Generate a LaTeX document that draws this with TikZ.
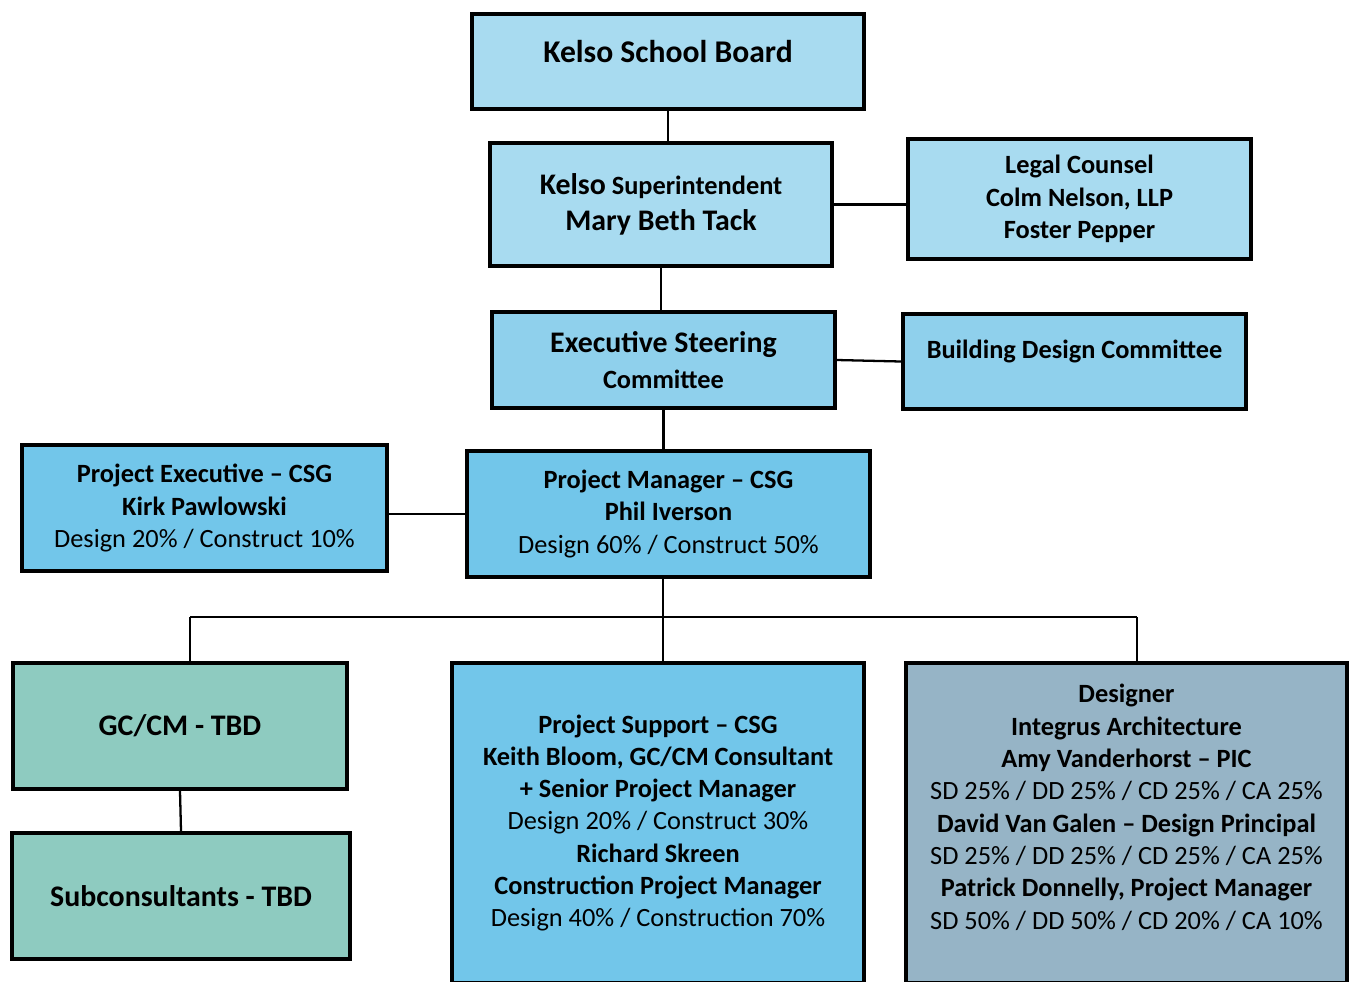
\documentclass[tikz,border=0pt]{standalone}
\usepackage{fontspec}
\setmainfont{Carlito}
\usepackage{xcolor}
\usetikzlibrary{positioning}

\definecolor{boardblue}{HTML}{A8DBF0}
\definecolor{steerblue}{HTML}{8FD0EC}
\definecolor{csgblue}{HTML}{72C6EA}
\definecolor{gcgreen}{HTML}{8ECBC0}
\definecolor{designgray}{HTML}{96B4C6}

\newcommand{\bigtxt}{\fontsize{17}{20.4}\selectfont\bfseries}

\begin{document}
\begin{tikzpicture}[
  x=0.02cm, y=-0.02cm,
  box/.style={rectangle, draw, line width=2.2pt, align=center, inner sep=2pt,
    font=\fontsize{15}{18.4}\selectfont},
  wide/.style={font=\fontsize{15}{20.4}\selectfont},
  link/.style={line width=1.3pt}
]
\useasboundingbox (0,0) rectangle (1351,981);

% Board and superintendent
\node[box, fill=boardblue, minimum width=7.84cm, minimum height=1.90cm, text depth=0.4cm] (board) at (668,61.5)
  {\fontsize{18}{21}\selectfont\bfseries Kelso School Board};
\node[box, wide, fill=boardblue, minimum width=6.84cm, minimum height=2.46cm] (supt) at (661,204.5)
  {\textbf{{\fontsize{17}{20.4}\selectfont Kelso} Superintendent}\\
   \textbf{\fontsize{17}{20.4}\selectfont Mary Beth Tack}};
\node[box, fill=boardblue, minimum width=6.86cm, minimum height=2.40cm] (legal) at (1079.5,199)
  {\textbf{Legal Counsel}\\ \textbf{Colm Nelson, LLP}\\ \textbf{Foster Pepper}};

% Committees
\node[box, wide, fill=steerblue, minimum width=6.86cm, minimum height=1.92cm] (esc) at (663.5,360)
  {\textbf{\fontsize{17}{20.4}\selectfont Executive Steering}\\ \textbf{Committee}};
\node[box, fill=steerblue, minimum width=6.86cm, minimum height=1.90cm, text depth=0.5cm] (bdc) at (1074.5,361.5)
  {\textbf{Building Design Committee}};

% CSG
\node[box, fill=csgblue, minimum width=7.30cm, minimum height=2.52cm] (pe) at (204.5,508)
  {\textbf{Project Executive -- CSG}\\ \textbf{Kirk Pawlowski}\\ Design 20\% / Construct 10\%};
\node[box, fill=csgblue, minimum width=8.06cm, minimum height=2.52cm] (pm) at (668.5,514)
  {\textbf{Project Manager -- CSG}\\ \textbf{Phil Iverson}\\ Design 60\% / Construct 50\%};

% Bottom row
\node[box, fill=gcgreen, minimum width=6.68cm, minimum height=2.52cm] (gccm) at (180,726)
  {\bigtxt GC/CM - TBD};
\node[box, fill=gcgreen, minimum width=6.76cm, minimum height=2.52cm] (sub) at (181,896)
  {\bigtxt Subconsultants - TBD};
\node[box, fill=csgblue, minimum width=8.24cm, minimum height=6.40cm] (ps) at (658,823)
  {\textbf{Project Support -- CSG}\\ \textbf{Keith Bloom, GC/CM Consultant}\\
   \textbf{+ Senior Project Manager}\\ Design 20\% / Construct 30\%\\
   \textbf{Richard Skreen}\\ \textbf{Construction Project Manager}\\
   Design 40\% / Construction 70\%};
\node[box, fill=designgray, minimum width=8.82cm, minimum height=6.40cm] (des) at (1126.5,823)
  {\textbf{Designer}\\ \textbf{Integrus Architecture}\\ \textbf{Amy Vanderhorst -- PIC}\\
   SD 25\% / DD 25\% / CD 25\% / CA 25\%\\
   \textbf{David Van Galen -- Design Principal}\\
   SD 25\% / DD 25\% / CD 25\% / CA 25\%\\
   \textbf{Patrick Donnelly, Project Manager}\\
   SD 50\% / DD 50\% / CD 20\% / CA 10\%\\ \mbox{}};

% Bus under project manager
\coordinate (busL) at (190,617);
\coordinate (busR) at (1137,617);
\coordinate (drop) at (663,617);

% Connectors
\draw[link] (board.south) -- (board.south |- supt.north);
\draw[link] (supt.east) -- (supt.east -| legal.west);
\draw[link] (supt.south) -- (supt.south |- esc.north);
\draw[link] (esc.east) -- (bdc.west);
\draw[link] (esc.south) -- (esc.south |- pm.north);
\draw[link] (pm.west) -- (pm.west -| pe.east);
\draw[link] (drop |- pm.south) -- (drop |- ps.north);
\draw[link] (busL) -- (busR);
\draw[link] (busL) -- (busL |- gccm.north);
\draw[link] (busR) -- (busR |- des.north);
\draw[link] (gccm.south) -- (sub.north);

\end{tikzpicture}
\end{document}
